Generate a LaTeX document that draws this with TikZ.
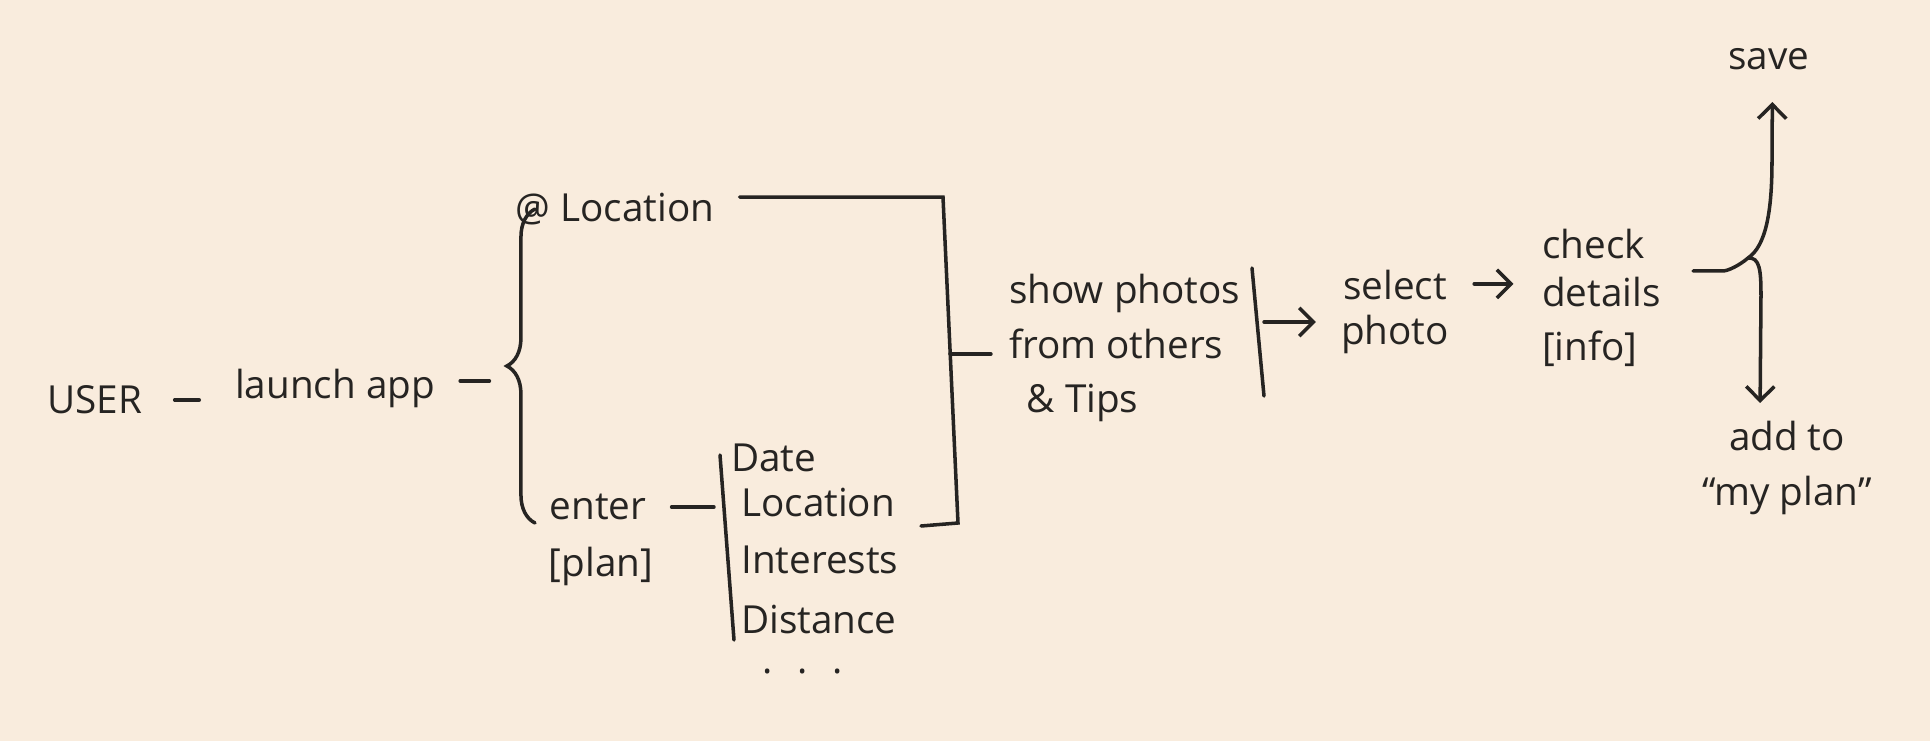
\documentclass[tikz,border=0pt]{standalone}
\usepackage{fontspec}
\setmainfont{Open Sans}
\usepackage{tikz}
\usetikzlibrary{arrows.meta}
\usetikzlibrary{decorations.pathreplacing}
\definecolor{paper}{RGB}{249,236,221}
\definecolor{ink}{RGB}{38,36,34}

\begin{document}
\begin{tikzpicture}[every edge/.style={draw=ink,solid},
                    every node/.style={text=ink, inner sep=1pt, font=\fontsize{11}{15.6}\selectfont},
                    pen/.style={line width=1pt, line cap=round},
                    line/.style={draw=ink, pen},
                    >={Straight Barb[length=4pt,width=8pt]}]

\fill[paper] (0,0) rectangle (19.30,7.41);
\useasboundingbox (0,0) rectangle (19.30,7.41);

\node (user) at (0.95,3.41) {USER};
\node (launch) at (3.35,3.53) {launch app};
\node (loc) at (6.15,5.32) {@ Location};
\node (enter) at (5.98,2.34) {enter};
\node (plan) at (6.01,1.75) {[plan]};
\node[anchor=west] (date) at (7.27,2.83) {Date};
\node[anchor=west] (where) at (7.37,2.39) {Location};
\node[anchor=west] (interests) at (7.37,1.81) {Interests};
\node[anchor=west] (distance) at (7.37,1.22) {Distance};
\node (dots) at (8.03,0.70) {.\hspace{7pt}.\hspace{7pt}.};
\node[align=left, anchor=west] (photos) at (10.05,3.93) {show photos\\from others\\\hspace{5pt}\& Tips};
\node[align=center] (select) at (13.95,4.29) {select\\[-3pt]photo};
\node[align=left, anchor=west] (check) at (15.38,4.43) {check\\[-2pt]details\\{[info]}};
\node (save) at (17.69,6.82) {save};
\node[align=center] (addto) at (17.87,2.73) {add to\\``my plan''};

% brace, bars and free ends
\coordinate (bb) at (5.35,2.18);
\coordinate (bt) at (5.35,5.32);
\coordinate (tip) at (5.07,3.72);
\coordinate (lt) at (7.20,2.86);
\coordinate (lb) at (7.34,1.01);
\coordinate (lmid) at (7.21,2.33);
\coordinate (k2) at (9.43,5.44);
\coordinate (k3) at (9.58,2.18);
\coordinate (k4) at (9.21,2.15);
\coordinate (kmid) at (9.50,3.87);
\coordinate (b2t) at (12.52,4.73);
\coordinate (b2b) at (12.64,3.45);
\coordinate (b2m) at (12.57,4.19);
\coordinate (fork) at (17.48,4.83);

\draw[line, decorate, decoration={brace, amplitude=8pt}] (bb) -- (bt);
\draw[line] (lt) -- (lb);
\draw[line] (b2t) -- (b2b);
\draw[line, shorten <=6pt] ([yshift=3.4pt]loc.east) -- ([yshift=3.4pt]loc.east -| k2) -- (k3) -- (k4);

\path[pen]
(user.east) edge [shorten <=8pt, shorten >=9pt] (user.east -| launch.west)
([yshift=2pt]launch.east) edge [shorten <=6pt, shorten >=5pt] ([yshift=2pt]launch.east -| tip)
(enter.east) edge [shorten <=6pt, shorten >=2pt] (enter.east -| lmid)
(kmid) edge [shorten >=4pt] (kmid -| photos.west);

\path[pen, ->]
(b2m) edge [shorten <=2pt, shorten >=6pt] (b2m -| select.west)
([yshift=8pt]select.east) edge [shorten <=6pt, shorten >=7pt] ([yshift=8pt]select.east -| check.west);

\draw[line, ->, shorten >=8pt] ([xshift=8pt,yshift=7.7pt]check.east) -- ++(0.30,0)
  .. controls (17.28,4.70) and (17.40,4.76) .. (fork)
  .. controls (17.66,4.95) and (17.72,5.30) .. (17.72,5.80)
  -- ([xshift=1pt]save.south);
\draw[line, ->, shorten >=4pt] (fork) .. controls (17.60,4.84) and (17.61,4.70) .. (17.61,4.45)
  -- ([xshift=-0.27cm]addto.north);
\end{tikzpicture}
\end{document}
